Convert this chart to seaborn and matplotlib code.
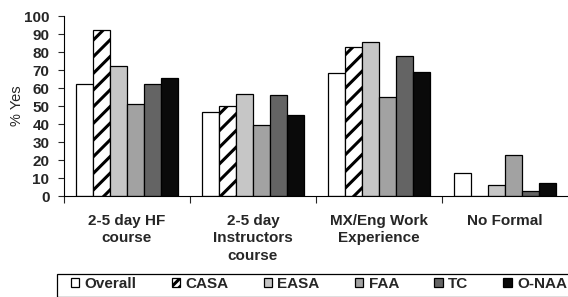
import pandas as pd
import matplotlib.pyplot as plt
import seaborn as sns
from matplotlib.patches import Rectangle
from matplotlib.ticker import FixedLocator

# Training types (x categories) and agencies (hue)
categories = ['2-5 day HF\ncourse', '2-5 day\nInstructors\ncourse',
              'MX/Eng Work\nExperience', 'No Formal']
agencies = ['Overall', 'CASA', 'EASA', 'FAA', 'TC', 'O-NAA']

# % Yes per agency, one value per category
overall = [62, 46.5, 68.5, 13]
casa = [92, 50, 83, 0]
easa = [72.5, 56.5, 85.5, 6]
faa = [51, 39.5, 55, 23]
tc = [62.5, 56, 78, 3]
onaa = [65.5, 45, 69, 7]

values = [overall, casa, easa, faa, tc, onaa]
df = pd.DataFrame([
    {'category': c, 'agency': a, 'value': v}
    for a, vals in zip(agencies, values)
    for c, v in zip(categories, vals)
])

sns.set_style('white')
plt.rcParams['font.family'] = ['Liberation Sans', 'DejaVu Sans']
plt.rcParams['hatch.linewidth'] = 2.2

colors = ['#ffffff', '#ffffff', '#c6c6c6', '#a2a2a2', '#646464', '#0a0a0a']

fig = plt.figure(figsize=(5.68, 2.97), dpi=100)
ax = fig.add_axes([64 / 568, 1 - 196 / 297, 504 / 568, 180 / 297])

sns.barplot(data=df, x='category', y='value', hue='agency',
            hue_order=agencies, order=categories, palette=colors,
            edgecolor='black', linewidth=0.9, width=0.81, ax=ax)

# hatch the CASA bars
for bar in ax.containers[1]:
    bar.set_hatch('//')

ax.set_ylim(0, 100)
ax.set_xlim(-0.5, 3.5)
ax.set_yticks(range(0, 101, 10))
ax.set_ylabel('% Yes', fontsize=10.5, labelpad=0)
ax.set_xlabel('')

for lbl in ax.get_yticklabels():
    lbl.set_fontweight('bold')
    lbl.set_fontsize(11)
ax.tick_params(axis='y', length=4.5, width=0.8, direction='out', left=True, pad=6)

ax.tick_params(axis='x', which='major', length=0, pad=13)
for lbl in ax.get_xticklabels():
    lbl.set_fontweight('bold')
    lbl.set_fontsize(11)
    lbl.set_linespacing(1.3)
    lbl.set_verticalalignment('top')
ax.xaxis.set_minor_locator(FixedLocator([-0.5, 0.5, 1.5, 2.5]))
ax.tick_params(axis='x', which='minor', length=5, width=0.8, direction='out', bottom=True)

sns.despine(ax=ax)
for side in ['left', 'bottom']:
    ax.spines[side].set_color('black')
    ax.spines[side].set_linewidth(0.8)

handles, labels = ax.get_legend_handles_labels()
ax.get_legend().remove()
handles[1].set_hatch('////')
leg = fig.legend(handles, labels, loc='upper left', ncol=6,
                 bbox_to_anchor=(67 / 568, 1 - 273 / 297),
                 frameon=False,
                 handlelength=0.55, handleheight=0.55, handletextpad=0.35,
                 borderpad=0.25, borderaxespad=0, columnspacing=2.3,
                 prop={'weight': 'bold', 'size': 11})

# legend box runs off the right edge like the original
fig.patches.append(Rectangle((57 / 568, 0.5 / 297), 520 / 568, 22.5 / 297,
                             transform=fig.transFigure, fill=False,
                             edgecolor='black', linewidth=0.9))

fig.savefig('out.png', dpi=100)
